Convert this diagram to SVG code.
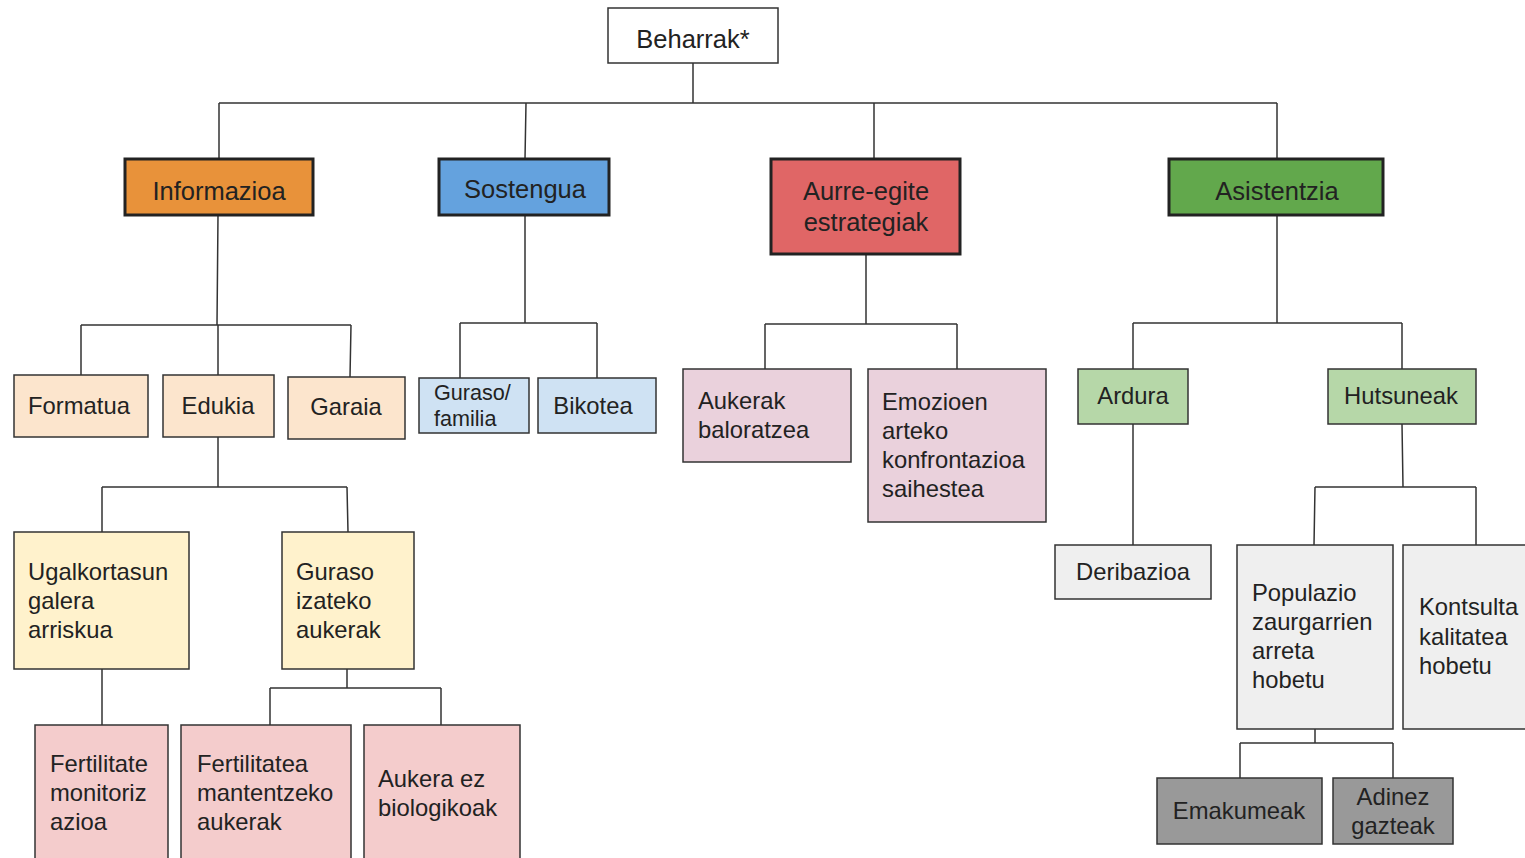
<svg xmlns="http://www.w3.org/2000/svg" width="1525" height="858" viewBox="0 0 1525 858">
<style>
.n{stroke:#333;stroke-width:1.5}
.t{stroke:#222;stroke-width:3}
text{font-family:"Liberation Sans",Arial,sans-serif;font-size:23.8px;fill:#222}
.c{text-anchor:middle}
.big{font-size:25.5px}
.e{fill:none;stroke:#333;stroke-width:1.5}
</style>
<rect width="1525" height="858" fill="#fff"/>
<g id="connectors" class="e">
<path d="M693 63V103M219 103H1277M219 103V159M526 103L525 159M874 103V159M1277 103V159"/>
<path d="M218 215L217 325M81 325H351M81 325V375M218 325V375M351 325L350 377"/>
<path d="M525 215V323M460 323H597M460 323V378M597 323V378"/>
<path d="M866 254V324M765 324H957M765 324V369M957 324V369"/>
<path d="M1277 215V323M1133 323H1402M1133 323V369M1402 323V369"/>
<path d="M1133 424V545"/>
<path d="M1402 424L1403 487M1315 487H1476M1315 487L1314 545M1476 487V545"/>
<path d="M1315 729V743M1240 743H1393M1240 743V778M1393 743V778"/>
<path d="M218 437V487M102 487H347M102 487V532M347 487L348 532"/>
<path d="M102 669V725"/>
<path d="M347 669V688M270 688H441M270 688V725M441 688V725"/>
</g>
<g id="beharrak"><rect x="608" y="8" width="170" height="55" fill="#fff" class="n"/><text class="c big" x="693" y="48">Beharrak*</text></g>
<g id="informazioa"><rect x="125" y="159" width="188" height="56" fill="#e8923a" class="t"/><text class="c big" x="219" y="200">Informazioa</text></g>
<g id="sostengua"><rect x="439" y="159" width="170" height="56" fill="#64a2de" class="t"/><text class="c big" x="525" y="198">Sostengua</text></g>
<g id="aurre"><rect x="771" y="159" width="189" height="95" fill="#e06666" class="t"/><text class="c big" x="866" y="200">Aurre-egite</text><text class="c big" x="866" y="231">estrategiak</text></g>
<g id="asistentzia"><rect x="1169" y="159" width="214" height="56" fill="#62a84c" class="t"/><text class="c big" x="1277" y="200">Asistentzia</text></g>
<g id="formatua"><rect x="14" y="375" width="134" height="62" fill="#fce5cd" class="n"/><text class="c" x="79" y="414">Formatua</text></g>
<g id="edukia"><rect x="163" y="375" width="111" height="62" fill="#fce5cd" class="n"/><text class="c" x="218" y="414">Edukia</text></g>
<g id="garaia"><rect x="288" y="377" width="117" height="62" fill="#fce5cd" class="n"/><text class="c" x="346" y="415">Garaia</text></g>
<g id="guraso-familia"><rect x="419" y="378" width="110" height="55" fill="#cfe2f3" class="n"/><text x="434" y="400" style="font-size:21.6px">Guraso/</text><text x="434" y="426" style="font-size:21.6px">familia</text></g>
<g id="bikotea"><rect x="538" y="378" width="118" height="55" fill="#cfe2f3" class="n"/><text class="c" x="593" y="414">Bikotea</text></g>
<g id="aukerak"><rect x="683" y="369" width="168" height="93" fill="#ead1dc" class="n"/><text x="698" y="409">Aukerak</text><text x="698" y="438">baloratzea</text></g>
<g id="emozioen"><rect x="868" y="369" width="178" height="153" fill="#ead1dc" class="n"/><text x="882" y="410">Emozioen</text><text x="882" y="439">arteko</text><text x="882" y="468">konfrontazioa</text><text x="882" y="497">saihestea</text></g>
<g id="ardura"><rect x="1078" y="369" width="110" height="55" fill="#b6d7a8" class="n"/><text class="c" x="1133" y="404">Ardura</text></g>
<g id="hutsuneak"><rect x="1328" y="369" width="148" height="55" fill="#b6d7a8" class="n"/><text class="c" x="1401" y="404">Hutsuneak</text></g>
<g id="deribazioa"><rect x="1055" y="545" width="156" height="54" fill="#efefef" class="n"/><text class="c" x="1133" y="580">Deribazioa</text></g>
<g id="populazio"><rect x="1237" y="545" width="156" height="184" fill="#efefef" class="n"/><text x="1252" y="601">Populazio</text><text x="1252" y="630">zaurgarrien</text><text x="1252" y="659">arreta</text><text x="1252" y="688">hobetu</text></g>
<g id="kontsulta"><rect x="1403" y="545" width="130" height="184" fill="#efefef" class="n"/><text x="1419" y="615">Kontsulta</text><text x="1419" y="645">kalitatea</text><text x="1419" y="674">hobetu</text></g>
<g id="emakumeak"><rect x="1157" y="778" width="165" height="66" fill="#999" class="n"/><text class="c" x="1239" y="819">Emakumeak</text></g>
<g id="adinez"><rect x="1333" y="778" width="120" height="66" fill="#999" class="n"/><text class="c" x="1393" y="805">Adinez</text><text class="c" x="1393" y="834">gazteak</text></g>
<g id="ugalkortasun"><rect x="14" y="532" width="175" height="137" fill="#fff2cc" class="n"/><text x="28" y="580">Ugalkortasun</text><text x="28" y="609">galera</text><text x="28" y="638">arriskua</text></g>
<g id="guraso-izateko"><rect x="282" y="532" width="132" height="137" fill="#fff2cc" class="n"/><text x="296" y="580">Guraso</text><text x="296" y="609">izateko</text><text x="296" y="638">aukerak</text></g>
<g id="fertilitate"><rect x="35" y="725" width="133" height="140" fill="#f4cccc" class="n"/><text x="50" y="772">Fertilitate</text><text x="50" y="801">monitoriz</text><text x="50" y="830">azioa</text></g>
<g id="fertilitatea"><rect x="181" y="725" width="170" height="140" fill="#f4cccc" class="n"/><text x="197" y="772">Fertilitatea</text><text x="197" y="801">mantentzeko</text><text x="197" y="830">aukerak</text></g>
<g id="aukera-ez"><rect x="364" y="725" width="156" height="140" fill="#f4cccc" class="n"/><text x="378" y="787">Aukera ez</text><text x="378" y="816">biologikoak</text></g>
</svg>
